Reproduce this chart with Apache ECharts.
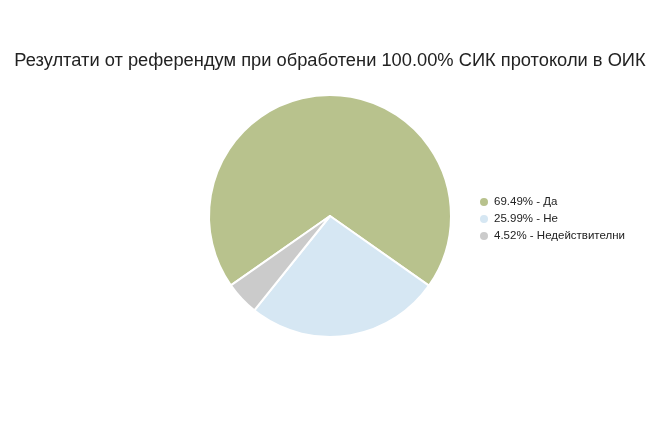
<!DOCTYPE html>
<html>
<head>
<meta charset="utf-8">
<script src="https://cdn.jsdelivr.net/npm/echarts@6/dist/echarts.min.js"></script>
<style>
  html, body { margin: 0; padding: 0; background: #fff; }
  #chart { width: 660px; height: 430px; }
</style>
</head>
<body>
<div id="chart"></div>
<script>
(function () {
  var chart = echarts.init(document.getElementById('chart'));

  // данни от референдума
  var names = ['Да', 'Не', 'Недействителни'];
  var percents = [69.49, 25.99, 4.52];
  var colors = ['#b8c28d', '#d6e7f3', '#cbcbcb'];

  var data = names.map(function (n, i) {
    return { name: n, value: percents[i], itemStyle: { color: colors[i] } };
  });

  var option = {
    title: {
      text: 'Резултати от референдум при обработени 100.00% СИК протоколи в ОИК',
      left: 'center',
      top: 47,
      textStyle: {
        fontFamily: 'Liberation Sans, Arial, sans-serif',
        fontSize: 18.3,
        fontWeight: 'normal',
        color: '#222'
      }
    },
    legend: {
      orient: 'vertical',
      left: 473,
      top: 191,
      itemWidth: 10,
      itemHeight: 10,
      itemGap: 5,
      icon: 'circle',
      textStyle: {
        fontFamily: 'Liberation Sans, Arial, sans-serif',
        fontSize: 11.5,
        color: '#222'
      },
      formatter: function (name) {
        var i = names.indexOf(name);
        return percents[i].toFixed(2) + '% - ' + name;
      }
    },
    series: [{
      type: 'pie',
      center: [330, 216],
      radius: [0, 121],
      startAngle: 215,
      clockwise: true,
      label: { show: false },
      labelLine: { show: false },
      silent: true,
      itemStyle: { borderColor: '#fff', borderWidth: 2 },
      data: data
    }]
  };

  chart.setOption(option);
  window.addEventListener('resize', function () {
    chart.resize();
  });
})();
</script>
</body>
</html>
